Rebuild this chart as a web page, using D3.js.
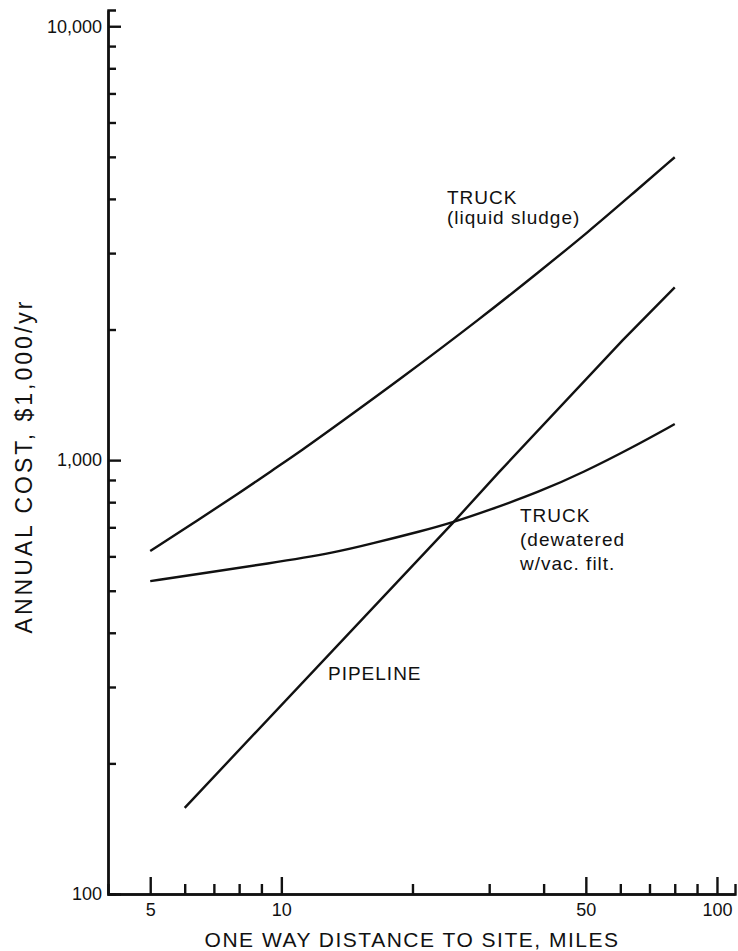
<!DOCTYPE html>
<html>
<head>
<meta charset="utf-8">
<script src="https://cdn.jsdelivr.net/npm/d3@7"></script>
<style>
body { margin: 0; background: #fff; }
text { font-family: "Liberation Sans", Arial, sans-serif; fill: #111; }
</style>
</head>
<body>
<div id="chart"></div>
<script>
//////////////////////////////////////////////////////////////////////////////
// Data (miles, $1,000/yr)

var liquidMiles = [5, 6.4, 8, 9.5, 11.1, 13.5, 18.6, 28.9, 39.1, 50.9, 63.1, 80];
var liquidCost  = [617, 725, 839, 945, 1050, 1210, 1528, 2134, 2720, 3370, 4060, 4990];

var dewaterMiles = [5, 6.7, 9.2, 13.5, 16.1, 21, 24.7, 30, 39.1, 49.1, 64, 80];
var dewaterCost  = [526, 550, 576, 614, 642, 686, 718, 767, 845, 935, 1070, 1211];

var pipeMiles = [6, 24.7, 31.6, 60.7, 80];
var pipeCost  = [158, 715, 938, 1888, 2500];

var xMajor = [5, 10, 50, 100];
var xMinor = [6, 7, 8, 9, 20, 30, 40, 60, 70, 80, 90];
var yMajor = [100, 1000, 10000];
var yMinor = [200, 300, 400, 500, 600, 700, 800, 900,
              2000, 3000, 4000, 5000, 6000, 7000, 8000, 9000];
var yLabels = {100: "100", 1000: "1,000", 10000: "10,000"};

//////////////////////////////////////////////////////////////////////////////
// Global variables, preliminaries

var width = 738, height = 951;

var xScale = d3.scaleLog().domain([4, 110]).range([108, 735]);
var yScale = d3.scaleLog().domain([100, 10900]).range([894, 10]);

var svg = d3.select("#chart")
    .append("svg")
    .attr("width", width)
    .attr("height", height);

function zip(xs, ys) {
    return xs.map(function(x, i) { return [x, ys[i]]; });
}

function makeLine(curve) {
    return d3.line()
        .x(function(d) { return xScale(d[0]); })
        .y(function(d) { return yScale(d[1]); })
        .curve(curve);
}

function styleAxis(g) {
    g.selectAll("path, line")
        .attr("stroke", "#111")
        .attr("stroke-width", 2.4);
    g.selectAll("text")
        .style("font-family", "Liberation Sans, Arial, sans-serif")
        .attr("fill", "#111");
}

//////////////////////////////////////////////////////////////////////////////
// Axes

svg.append("g")
    .attr("transform", "translate(108,0)")
    .call(d3.axisLeft(yScale).tickValues(yMinor).tickSize(-8).tickFormat(""))
    .call(styleAxis);

svg.append("g")
    .attr("transform", "translate(108,0)")
    .call(d3.axisLeft(yScale).tickValues(yMajor).tickSizeInner(-13).tickSizeOuter(0)
        .tickPadding(6).tickFormat(function(d) { return yLabels[d]; }))
    .call(styleAxis)
    .selectAll("text")
    .style("font-size", "18px");

svg.append("g")
    .attr("transform", "translate(0,894)")
    .call(d3.axisBottom(xScale).tickValues(xMinor).tickSize(-10).tickFormat(""))
    .call(styleAxis);

svg.append("g")
    .attr("transform", "translate(0,894)")
    .call(d3.axisBottom(xScale).tickValues(xMajor).tickSizeInner(-17).tickSizeOuter(0)
        .tickPadding(9).tickFormat(d3.format("d")))
    .call(styleAxis)
    .selectAll("text")
    .style("font-size", "18px");

svg.append("text")
    .attr("x", 412)
    .attr("y", 947)
    .attr("text-anchor", "middle")
    .style("font-size", "21px")
    .style("letter-spacing", "1.5px")
    .text("ONE WAY DISTANCE TO SITE, MILES");

svg.append("text")
    .attr("transform", "translate(32,466) rotate(-90)")
    .attr("text-anchor", "middle")
    .style("font-size", "23px")
    .style("letter-spacing", "3px")
    .text("ANNUAL  COST,  $1,000/yr");

//////////////////////////////////////////////////////////////////////////////
// Curves

svg.append("path")
    .datum(zip(liquidMiles, liquidCost))
    .attr("d", makeLine(d3.curveBasis));

svg.append("path")
    .datum(zip(dewaterMiles, dewaterCost))
    .attr("d", makeLine(d3.curveBasis));

svg.append("path")
    .datum(zip(pipeMiles, pipeCost))
    .attr("d", makeLine(d3.curveLinear));

svg.selectAll("svg > path")
    .attr("fill", "none")
    .attr("stroke", "#111")
    .attr("stroke-width", 2.4);

//////////////////////////////////////////////////////////////////////////////
// Labels

function note(x, y, lines, dy) {
    var t = svg.append("text")
        .attr("x", x)
        .attr("y", y)
        .style("font-size", "19px")
        .style("letter-spacing", "1px");
    lines.forEach(function(s, i) {
        t.append("tspan")
            .attr("x", x)
            .attr("dy", i === 0 ? 0 : dy)
            .text(s);
    });
}

note(447, 204, ["TRUCK", "(liquid  sludge)"], 20);
note(520, 522, ["TRUCK", "(dewatered", "w/vac. filt."], 24);
note(328, 680, ["PIPELINE"], 0);
</script>
</body>
</html>
